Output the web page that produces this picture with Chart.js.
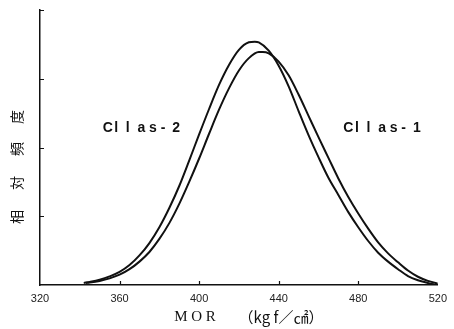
<!DOCTYPE html>
<html>
<head>
<meta charset="utf-8">
<script src="https://cdn.jsdelivr.net/npm/chart.js@4/dist/chart.umd.min.js"></script>
<style>
    html, body { margin: 0; padding: 0; background: #fff; }
    #wrap { width: 454px; height: 329px; }
</style>
</head>
<body>
<div id="wrap"><canvas id="mor-chart" width="454" height="329"></canvas></div>
<script>
// MOR values (kgf/cm2) and relative frequency
const morClass2 = [342, 345, 350, 355, 360, 365, 370, 375, 380, 385, 390, 395, 400, 405, 410, 415, 420, 425, 428, 430, 435, 440, 445, 450, 455, 460, 465, 470, 475, 480, 485, 490, 495, 500, 505, 510, 515, 518];
const freqClass2 = [0.03, 0.045, 0.077, 0.125, 0.19, 0.29, 0.43, 0.61, 0.84, 1.12, 1.44, 1.81, 2.19, 2.56, 2.91, 3.20, 3.42, 3.53, 3.54, 3.53, 3.41, 3.19, 2.89, 2.53, 2.18, 1.86, 1.56, 1.31, 1.06, 0.84, 0.64, 0.47, 0.34, 0.23, 0.13, 0.07, 0.03, 0.01];

const morClass1 = [343, 345, 350, 355, 360, 365, 370, 375, 380, 385, 390, 395, 400, 405, 410, 415, 420, 425, 430, 432, 435, 440, 445, 450, 455, 460, 465, 470, 475, 480, 485, 490, 495, 500, 505, 510, 515, 520];
const freqClass1 = [0.03, 0.036, 0.059, 0.096, 0.15, 0.23, 0.34, 0.48, 0.67, 0.90, 1.18, 1.50, 1.84, 2.20, 2.55, 2.86, 3.12, 3.30, 3.39, 3.39, 3.37, 3.25, 3.05, 2.77, 2.46, 2.15, 1.85, 1.55, 1.28, 1.04, 0.82, 0.62, 0.46, 0.33, 0.21, 0.12, 0.06, 0.02];

const xTicks = [320, 360, 400, 440, 480, 520];
const yTicks = [1, 2, 3, 4];
const seriesLabels = ['Cllas-2', 'Cllas-1'];
const yTitle = ['相', '対', '頻', '度'];
const xTitleMain = 'M O R';
const xTitleUnit = '（kg f／㎠）';

const toPoints = (xs, ys) => xs.map((x, i) => ({ x, y: ys[i] }));

// inward tick marks, series labels and axis titles
const decorations = {
    id: 'decorations',
    afterDraw(chart) {
        const { ctx, scales: { x, y }, chartArea } = chart;
        ctx.save();
        ctx.strokeStyle = '#111';
        ctx.lineWidth = 1.2;
        ctx.beginPath();
        xTicks.slice(1, -1).forEach(v => {
            const px = Math.round(x.getPixelForValue(v)) + 0.5;
            ctx.moveTo(px, chartArea.bottom);
            ctx.lineTo(px, chartArea.bottom - 4);
        });
        yTicks.forEach(v => {
            const py = Math.round(y.getPixelForValue(v)) + 0.5;
            ctx.moveTo(chartArea.left, py);
            ctx.lineTo(chartArea.left + 4, py);
        });
        ctx.stroke();

        // series labels, drawn letter by letter to get the wide spacing
        ctx.fillStyle = '#111';
        ctx.font = 'bold 14px "Liberation Sans", sans-serif';
        ctx.textBaseline = 'middle';
        ctx.textAlign = 'left';
        const anchors = [[351.5, 2.28], [472.5, 2.28]];
        seriesLabels.forEach((label, k) => {
            let px = x.getPixelForValue(anchors[k][0]);
            const py = y.getPixelForValue(anchors[k][1]);
            for (const ch of label) {
                ctx.fillText(ch, px, py);
                px += 11.6;
            }
        });

        // y title, rotated, spaced characters
        ctx.save();
        ctx.translate(17, 0);
        ctx.rotate(-Math.PI / 2);
        ctx.font = '14px "Noto Sans CJK JP", sans-serif';
        ctx.textAlign = 'center';
        [217, 183, 149, 117].forEach((py, i) => ctx.fillText(yTitle[i], -py, 0));
        ctx.restore();

        // x title
        ctx.textAlign = 'center';
        ctx.font = '15px "Liberation Serif", serif';
        ctx.fillText(xTitleMain, 195, 317);
        ctx.font = '15px "Noto Sans CJK JP", sans-serif';
        ctx.fillText(xTitleUnit, 281, 317);
        ctx.restore();
    }
};

const lineStyle = {
    borderColor: '#111',
    borderWidth: 2,
    pointRadius: 0,
    fill: false,
    cubicInterpolationMode: 'monotone'
};

new Chart(document.getElementById('mor-chart').getContext('2d'), {
    type: 'line',
    data: {
        datasets: [
            { label: seriesLabels[0], data: toPoints(morClass2, freqClass2), ...lineStyle },
            { label: seriesLabels[1], data: toPoints(morClass1, freqClass1), ...lineStyle }
        ]
    },
    options: {
        responsive: false,
        animation: false,
        layout: { padding: { top: 10, right: 11, left: 0, bottom: 0 } },
        plugins: { legend: { display: false }, tooltip: { enabled: false } },
        scales: {
            x: {
                type: 'linear',
                min: 320, max: 520,
                afterBuildTicks: scale => { scale.ticks = xTicks.map(value => ({ value })); },
                afterFit: scale => { scale.height = 44; },
                ticks: { color: '#222', padding: 7, font: { size: 11, family: '"Liberation Sans", sans-serif' } },
                grid: { display: true, drawOnChartArea: false, drawTicks: false },
                border: { display: true, color: '#111', width: 1.5 }
            },
            y: {
                type: 'linear',
                min: 0, max: 4,
                afterBuildTicks: scale => { scale.ticks = yTicks.map(value => ({ value })); },
                afterFit: scale => { scale.width = 40; },
                ticks: { display: false },
                grid: { display: true, drawOnChartArea: false, drawTicks: false },
                border: { display: true, color: '#111', width: 1.5 }
            }
        }
    },
    plugins: [decorations]
});
</script>
</body>
</html>
